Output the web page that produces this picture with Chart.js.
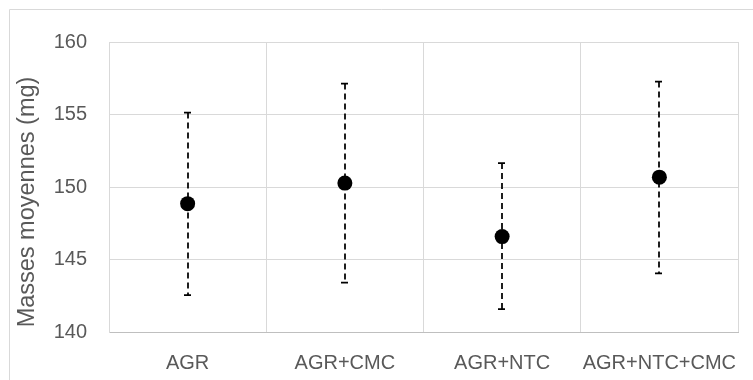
<!DOCTYPE html>
<html>
<head>
<meta charset="utf-8">
<script src="https://cdn.jsdelivr.net/npm/chart.js@4/dist/chart.umd.min.js"></script>
<style>
html,body{margin:0;padding:0;background:#fff;}
#wrap{position:relative;width:753px;height:380px;}
</style>
</head>
<body>
<div id="wrap"><canvas id="c" width="753" height="380"></canvas></div>
<script>
const categories = ["AGR", "AGR+CMC", "AGR+NTC", "AGR+NTC+CMC"];
const means = [148.85, 150.27, 146.58, 150.68];
const errLow = [142.55, 143.4, 141.57, 144.05];
const errHigh = [155.13, 157.13, 151.65, 157.27];
const yTicks = [140, 145, 150, 155, 160];
const yTitle = "Masses moyennes (mg)";

const textColor = "#595959";
const gridColor = "#d9d9d9";
const fontFamily = "'Liberation Sans', Arial, sans-serif";

const outerBorder = {
  id: "outerBorder",
  beforeDraw(chart) {
    const ctx = chart.ctx;
    ctx.save();
    ctx.strokeStyle = gridColor;
    ctx.lineWidth = 1;
    ctx.beginPath();
    ctx.moveTo(9.5, 380);
    ctx.lineTo(9.5, 9.5);
    ctx.lineTo(753, 9.5);
    ctx.stroke();
    ctx.restore();
  }
};

const yTitlePlugin = {
  id: "yTitlePlugin",
  afterDraw(chart) {
    const ctx = chart.ctx;
    const area = chart.chartArea;
    ctx.save();
    ctx.translate(28, (area.top + area.bottom) / 2 + 15);
    ctx.rotate(-Math.PI / 2);
    ctx.fillStyle = textColor;
    ctx.font = "23.5px " + fontFamily;
    ctx.textAlign = "center";
    ctx.textBaseline = "middle";
    ctx.fillText(yTitle, 0, 0);
    ctx.restore();
  }
};

const errorBars = {
  id: "errorBars",
  afterDatasetsDraw(chart) {
    const ctx = chart.ctx;
    const xs = chart.scales.x, ys = chart.scales.y;
    ctx.save();
    ctx.strokeStyle = "#000";
    ctx.lineWidth = 1.75;
    categories.forEach((c, i) => {
      const x = Math.round(xs.getPixelForValue(i));
      const yl = ys.getPixelForValue(errLow[i]);
      const yh = ys.getPixelForValue(errHigh[i]);
      ctx.setLineDash([6, 4]);
      ctx.beginPath();
      ctx.moveTo(x, yh);
      ctx.lineTo(x, yl);
      ctx.stroke();
      ctx.setLineDash([]);
      ctx.beginPath();
      ctx.moveTo(x - 4, yh); ctx.lineTo(x + 3, yh);
      ctx.moveTo(x - 4, yl); ctx.lineTo(x + 3, yl);
      ctx.stroke();
    });
    ctx.restore();
  }
};

new Chart(document.getElementById("c"), {
  type: "line",
  data: {
    labels: categories,
    datasets: [{
      data: means,
      showLine: false,
      pointRadius: 7.5,
      pointHoverRadius: 7.5,
      pointBackgroundColor: "#000",
      pointBorderColor: "#000",
      pointBorderWidth: 0
    }]
  },
  options: {
    responsive: false,
    animation: false,
    devicePixelRatio: 1,
    layout: { padding: { left: 10, top: 42, right: 15, bottom: 0 } },
    plugins: { legend: { display: false }, tooltip: { enabled: false } },
    scales: {
      x: {
        type: "category",
        offset: true,
        grid: { offset: true, color: gridColor, drawTicks: false },
        border: { color: "#bfbfbf", width: 1 },
        ticks: { color: textColor, font: { family: fontFamily, size: 20 }, padding: 19, maxRotation: 0, autoSkip: false },
        afterFit(s) { s.height = 48; s.paddingLeft = 0; s.paddingRight = 0; }
      },
      y: {
        min: 140, max: 160,
        afterBuildTicks(s) { s.ticks = yTicks.map(v => ({ value: v })); },
        grid: { color: gridColor, drawTicks: false },
        border: { color: gridColor },
        ticks: { color: textColor, font: { family: fontFamily, size: 20 }, padding: 22 },
        afterFit(s) { s.width = 99; }
      }
    }
  },
  plugins: [outerBorder, errorBars, yTitlePlugin]
});
</script>
</body>
</html>
